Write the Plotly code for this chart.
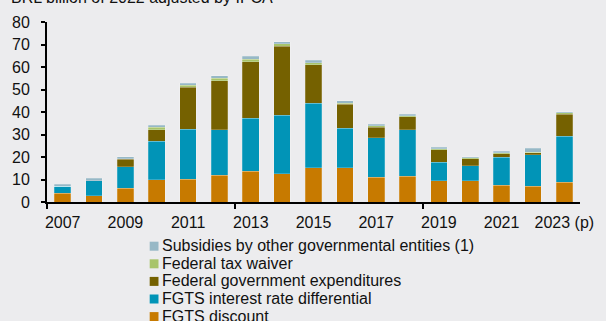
import plotly.graph_objects as go

years = list(range(2007, 2024))
tick_years = [2007, 2009, 2011, 2013, 2015, 2017, 2019, 2021, 2023]
tick_labels = ["2007", "2009", "2011", "2013", "2015", "2017", "2019", "2021", "2023 (p)"]

fgts_discount = [4.0, 2.8, 6.2, 10.0, 10.2, 11.9, 13.6, 12.5, 15.3, 15.3, 11.0, 11.5, 9.4, 9.4, 7.4, 6.9, 8.8]
fgts_interest = [3.1, 6.6, 9.4, 17.1, 22.1, 20.2, 23.6, 26.1, 28.6, 17.4, 17.5, 20.6, 8.2, 6.7, 12.4, 14.2, 20.4]
federal_exp = [0.0, 0.0, 3.4, 5.0, 18.7, 21.9, 25.2, 30.6, 17.2, 10.7, 4.7, 5.8, 5.6, 3.1, 1.6, 0.9, 9.9]
tax_waiver = [0.0, 0.0, 0.2, 1.1, 0.9, 1.0, 1.1, 1.1, 0.9, 0.6, 0.6, 0.5, 0.4, 0.4, 0.5, 0.2, 0.5]
subsidies_other = [0.8, 1.2, 0.9, 1.0, 0.9, 1.1, 1.2, 1.0, 0.9, 0.9, 0.8, 0.7, 0.7, 0.6, 0.7, 1.7, 0.5]

series = [
    ("FGTS discount", fgts_discount, "#C77A00"),
    ("FGTS interest rate differential", fgts_interest, "#0194B7"),
    ("Federal government expenditures", federal_exp, "#756100"),
    ("Federal tax waiver", tax_waiver, "#A8C46A"),
    ("Subsidies by other governmental entities (1)", subsidies_other, "#97B8C6"),
]

W, H = 606, 321
ML, MR, MT, MB = 47, 14, 22, 119
PW, PH = W - ML - MR, H - MT - MB


def px_x(p):
    return (p - ML) / PW


def px_y(p):
    return (H - MB - p) / PH


FONT = "Liberation Sans, Arial, sans-serif"
BG = "#ECECEE"

fig = go.Figure()
for name, vals, color in series:
    fig.add_trace(go.Bar(
        x=years, y=vals, name=name, showlegend=False,
        marker=dict(color=color, line=dict(color="rgba(255,255,255,0.35)", width=0.6)),
    ))

# custom legend (top item = last series)
leg_centers = [246.2, 263.8, 281.4, 299.0, 316.6]
shapes = []
annotations = []
for (name, vals, color), cy in zip(reversed(series), leg_centers):
    shapes.append(dict(type="rect", xref="paper", yref="paper",
                       x0=px_x(152), x1=px_x(161), y0=px_y(cy + 4.5), y1=px_y(cy - 4.5),
                       fillcolor=color, line=dict(width=0)))
    annotations.append(dict(text=name, xref="paper", yref="paper",
                            x=px_x(163), y=px_y(cy - 0.5), xanchor="left", yanchor="middle",
                            showarrow=False, font=dict(family=FONT, size=16, color="#111111")))

annotations.append(dict(text="BRL billion of 2022 adjusted by IPCA", xref="paper", yref="paper",
                        x=px_x(8), y=px_y(-3), xanchor="left", yanchor="middle",
                        showarrow=False, font=dict(family=FONT, size=16, color="#111111")))

fig.update_layout(
    barmode="stack",
    bargap=0.47,
    width=W, height=H,
    margin=dict(l=ML, r=MR, t=MT, b=MB),
    paper_bgcolor=BG, plot_bgcolor=BG,
    font=dict(family=FONT, size=16, color="#111111"),
    shapes=shapes,
    annotations=annotations,
    showlegend=False,
)
fig.update_xaxes(
    range=[2006.5, 2023.5],
    tickvals=tick_years, ticktext=tick_labels,
    ticks="", showgrid=False, zeroline=False,
    showline=True, linecolor="black", linewidth=2,
    tickfont=dict(family=FONT, size=16, color="#111111"),
    ticklabelstandoff=5,
    minor=dict(ticks="outside", ticklen=5, tickwidth=2, tickcolor="black",
               tick0=2006.5, dtick=6, showgrid=False),
)
fig.update_yaxes(
    range=[0, 80], dtick=10,
    ticks="outside", ticklen=4, tickwidth=2, tickcolor="black",
    showgrid=False, zeroline=False,
    showline=True, linecolor="black", linewidth=2,
    tickfont=dict(family=FONT, size=16, color="#111111"),
    ticklabelstandoff=8,
)

fig.write_html("out.html")
